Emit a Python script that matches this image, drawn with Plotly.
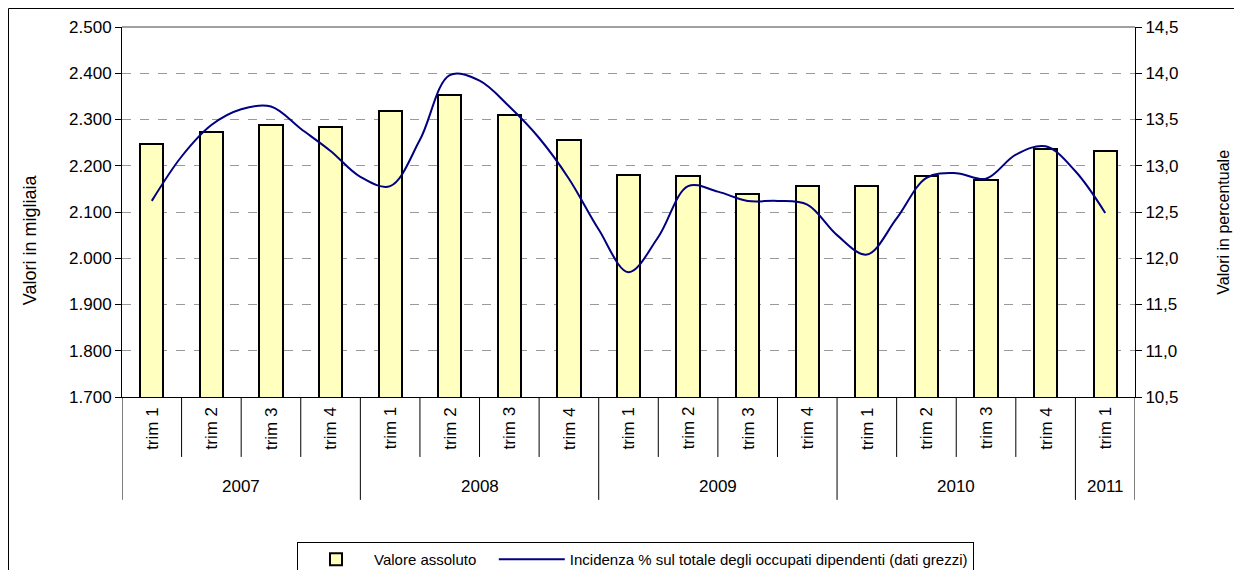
import plotly.graph_objects as go

# --- DATI ---
anni = ["2007", "2008", "2009", "2010", "2011"]
trimestri = ["trim 1", "trim 2", "trim 3", "trim 4",
             "trim 1", "trim 2", "trim 3", "trim 4",
             "trim 1", "trim 2", "trim 3", "trim 4",
             "trim 1", "trim 2", "trim 3", "trim 4",
             "trim 1"]
anno_trim = ["2007"] * 4 + ["2008"] * 4 + ["2009"] * 4 + ["2010"] * 4 + ["2011"]

# valore assoluto (migliaia)
valore_assoluto = [2246, 2272, 2289, 2284, 2319, 2353, 2310, 2255,
                   2181, 2177, 2139, 2156, 2156, 2177, 2169, 2237, 2232]

# incidenza % letta ogni mezzo trimestre (dal trim 1 2007 al trim 1 2011)
incidenza = [12.62, 13.10, 13.44, 13.61, 13.64, 13.40, 13.16, 12.88,
             12.78, 13.28, 13.98, 13.92, 13.64, 13.30, 12.86, 12.31,
             11.85, 12.23, 12.78, 12.72, 12.62, 12.62, 12.58, 12.25,
             12.04, 12.43, 12.87, 12.92, 12.86, 13.12, 13.21, 12.94, 12.49]

FONT = "Liberation Sans, Arial, sans-serif"
NBSP = "\u00a0"
n = len(trimestri)
x_bar = [i + 0.5 for i in range(n)]
x_line = [0.5 + k * 0.5 for k in range(len(incidenza))]

fig = go.Figure()

fig.add_trace(go.Bar(
    x=x_bar, y=valore_assoluto, name="Valore assoluto" + NBSP * 3,
    width=0.39,
    marker=dict(color="#FFFFC0", line=dict(color="black", width=2)),
))

fig.add_trace(go.Scatter(
    x=x_line, y=incidenza, yaxis="y2", mode="lines",
    name="Incidenza % sul totale degli occupati dipendenti (dati grezzi)",
    line=dict(color="#000080", width=2, shape="spline", smoothing=1.0),
))

# --- etichette asse x (trimestri ruotati + anni) ---
shapes = []
annotations = []
for i, t in enumerate(trimestri):
    annotations.append(dict(
        x=i + 0.5, y=-0.084, xref="x", yref="paper", text=t,
        textangle=-90, showarrow=False, xanchor="center", yanchor="middle",
        font=dict(size=17, color="black")
    ))

for a in anni:
    idx = [i for i, y in enumerate(anno_trim) if y == a]
    annotations.append(dict(
        x=(idx[0] + idx[-1] + 1) / 2, y=-0.243, xref="x", yref="paper",
        text=a, showarrow=False, xanchor="center", yanchor="middle",
        font=dict(size=17, color="black")
    ))

# titoli degli assi y
annotations.append(dict(x=-0.0908, y=0.424, xref="paper", yref="paper",
                        text="Valori in migliaia", textangle=-90, showarrow=False,
                        xanchor="center", yanchor="middle", font=dict(size=18)))
annotations.append(dict(x=1.0875, y=0.473, xref="paper", yref="paper",
                        text="Valori in percentuale", textangle=-90, showarrow=False,
                        xanchor="center", yanchor="middle", font=dict(size=16)))

confini_anno = {0, n}
for i in range(1, n):
    if anno_trim[i] != anno_trim[i - 1]:
        confini_anno.add(i)

for i in range(n + 1):
    y0 = -0.278 if i in confini_anno else -0.162
    shapes.append(dict(type="line", xref="x", yref="paper", x0=i, x1=i,
                       y0=0, y1=y0, line=dict(color="black", width=1)))

# bordo superiore area grafico
shapes.append(dict(type="line", xref="paper", yref="paper", x0=0, x1=1,
                   y0=1, y1=1, line=dict(color="#808080", width=1.5)))
# cornice esterna
shapes.append(dict(type="rect", xref="paper", yref="paper",
                   x0=-113.5 / 1013, x1=1.3, y0=-0.7, y1=1.0500,
                   line=dict(color="black", width=1)))

fig.update_layout(
    width=1234, height=562,
    margin=dict(l=114, r=107, t=19, b=173),
    paper_bgcolor="white", plot_bgcolor="white",
    separators=",.",
    font=dict(family=FONT, size=17, color="black"),
    bargap=0,
    showlegend=True,
    legend=dict(orientation="h", xref="container", yref="container",
                x=289 / 1234, y=1 - 534 / 562, xanchor="left", yanchor="top",
                bordercolor="black", borderwidth=1, bgcolor="white",
                font=dict(size=15), traceorder="normal", itemwidth=66),
    xaxis=dict(range=[0, n], showticklabels=False, showgrid=False, zeroline=False,
               showline=True, linecolor="black", linewidth=1, ticks=""),
    yaxis=dict(range=[1700, 2500], dtick=100, tickformat=",d",
               showgrid=True, gridcolor="#9a9a9a", griddash="dash", gridwidth=1,
               zeroline=False, showline=True, linecolor="black", linewidth=1,
               ticks="outside", ticklen=6, tickcolor="black", automargin=False),
    yaxis2=dict(range=[10.5, 14.5], dtick=0.5, tickformat=".1f",
                overlaying="y", side="right", showgrid=False, zeroline=False,
                showline=True, linecolor="black", linewidth=1,
                ticks="outside", ticklen=6, tickcolor="black", automargin=False),
    shapes=shapes,
    annotations=annotations,
)

fig.write_html("out.html")
